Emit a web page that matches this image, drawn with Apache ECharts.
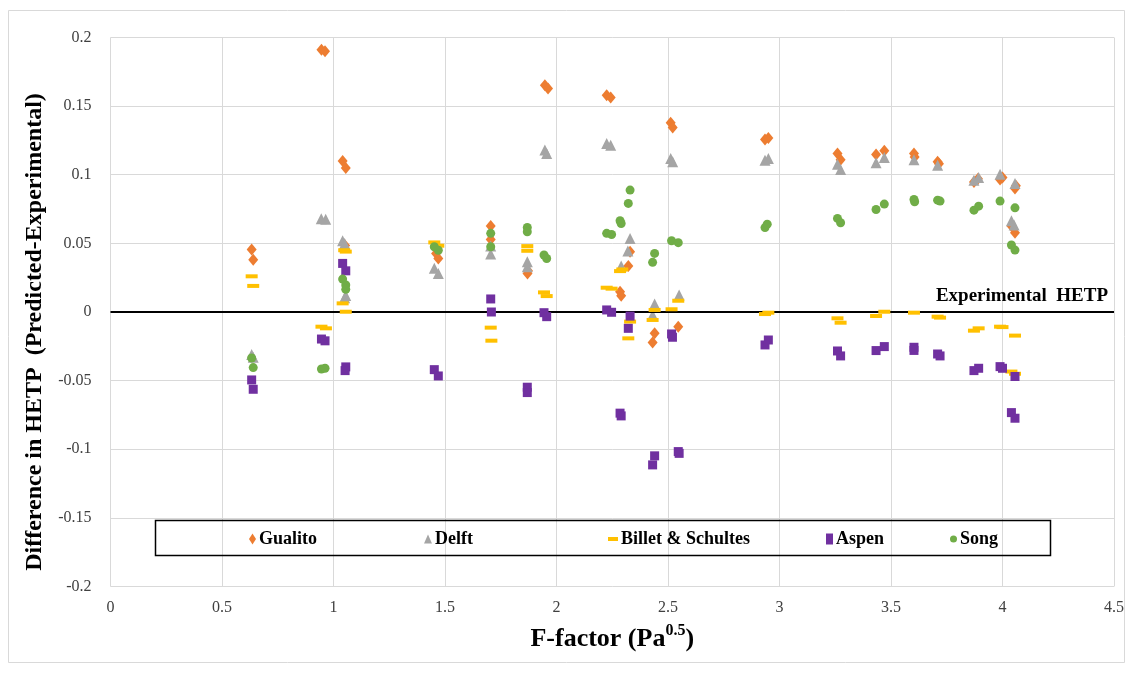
<!DOCTYPE html>
<html>
<head>
<meta charset="utf-8">
<script src="https://cdn.jsdelivr.net/npm/echarts@6/dist/echarts.min.js"></script>
<style>html,body{margin:0;padding:0;background:#fff;}#c{width:1132px;height:678px;}</style>
</head>
<body>
<div id="c"></div>
<script>
const seriesNames = ['Gualito', 'Delft', 'Billet & Schultes', 'Aspen', 'Song'];
const gualito = [[0.633,0.0456],[0.640,0.038],[0.946,0.191],[0.962,0.190],[1.041,0.110],[1.055,0.105],[1.052,0.0485],[1.46,0.0427],[1.47,0.039],[1.705,0.0626],[1.705,0.0529],[1.87,0.028],[1.872,0.030],[1.948,0.1652],[1.962,0.1628],[2.225,0.158],[2.243,0.1562],[2.285,0.0148],[2.29,0.0119],[2.322,0.0335],[2.33,0.0439],[2.431,-0.0223],[2.44,-0.0155],[2.512,0.1378],[2.521,0.1344],[2.546,-0.0107],[2.935,0.1257],[2.95,0.1268],[3.26,0.1155],[3.274,0.111],[3.433,0.1148],[3.47,0.1174],[3.603,0.1155],[3.606,0.113],[3.709,0.1094],[3.715,0.108],[3.872,0.0948],[3.89,0.097],[3.989,0.0966],[4.0,0.098],[4.056,0.09],[4.06,0.092],[4.04,0.0626],[4.056,0.0577]];
const delft = [[0.633,-0.031],[0.64,-0.033],[0.945,0.068],[0.965,0.0675],[1.041,0.052],[1.05,0.050],[1.05,0.0104],[1.055,0.012],[1.452,0.0318],[1.47,0.028],[1.705,0.0422],[1.705,0.048],[1.869,0.0366],[1.869,0.033],[1.948,0.118],[1.956,0.1155],[2.225,0.1228],[2.243,0.1215],[2.29,0.0335],[2.32,0.0444],[2.33,0.0536],[2.44,0.0058],[2.431,-0.0022],[2.512,0.1119],[2.521,0.1094],[2.55,0.0124],[2.935,0.1106],[2.95,0.1118],[3.26,0.1077],[3.274,0.1038],[3.433,0.1087],[3.47,0.1126],[3.603,0.111],[3.709,0.107],[3.872,0.096],[3.893,0.098],[3.989,0.1004],[4.056,0.0937],[4.04,0.0665],[4.052,0.0633]];
const billet = [[0.633,0.026],[0.64,0.019],[0.946,-0.0107],[0.966,-0.0119],[1.048,0.045],[1.055,0.044],[1.041,0.0063],[1.055,0.0002],[1.452,0.0507],[1.47,0.0483],[1.705,-0.0114],[1.708,-0.0209],[1.869,0.048],[1.869,0.0446],[1.944,0.0143],[1.956,0.0116],[2.225,0.0177],[2.247,0.017],[2.285,0.0298],[2.295,0.031],[2.33,-0.007],[2.322,-0.0192],[2.44,0.0015],[2.431,-0.0058],[2.546,0.0082],[2.516,0.002],[2.935,-0.0015],[2.95,-0.0005],[3.26,-0.0046],[3.274,-0.0078],[3.433,-0.0029],[3.47,0.0002],[3.603,-0.0005],[3.709,-0.0034],[3.72,-0.0041],[3.872,-0.0136],[3.893,-0.0119],[3.989,-0.0107],[4.0,-0.011],[4.056,-0.0172],[4.04,-0.0434],[4.056,-0.045]];
const aspen = [[0.633,-0.0495],[0.64,-0.0563],[0.946,-0.0197],[0.962,-0.021],[1.041,0.0354],[1.055,0.030],[1.055,-0.040],[1.052,-0.0427],[1.452,-0.042],[1.47,-0.0466],[1.705,0.0095],[1.708,0.0],[1.869,-0.0548],[1.869,-0.0587],[1.944,-0.0005],[1.956,-0.0034],[2.225,0.0015],[2.247,-0.0002],[2.285,-0.0737],[2.29,-0.0757],[2.33,-0.003],[2.322,-0.0119],[2.44,-0.1048],[2.431,-0.1114],[2.516,-0.016],[2.52,-0.0184],[2.546,-0.1017],[2.55,-0.103],[2.935,-0.024],[2.95,-0.0204],[3.26,-0.0284],[3.274,-0.032],[3.433,-0.0281],[3.47,-0.0252],[3.603,-0.0257],[3.603,-0.028],[3.709,-0.0306],[3.72,-0.032],[3.872,-0.0427],[3.893,-0.041],[3.989,-0.0398],[4.0,-0.041],[4.056,-0.047],[4.04,-0.0733],[4.056,-0.0774]];
const song = [[0.633,-0.0335],[0.64,-0.0405],[0.946,-0.0415],[0.962,-0.041],[1.041,0.024],[1.055,0.0197],[1.055,0.0165],[1.452,0.0475],[1.47,0.045],[1.705,0.0573],[1.705,0.0475],[1.869,0.0616],[1.869,0.0585],[1.944,0.0415],[1.956,0.039],[2.225,0.0573],[2.247,0.0565],[2.285,0.0665],[2.29,0.0645],[2.33,0.0888],[2.322,0.0791],[2.44,0.0427],[2.431,0.0362],[2.516,0.0519],[2.546,0.0505],[2.935,0.0615],[2.945,0.064],[3.26,0.0682],[3.274,0.065],[3.433,0.0747],[3.47,0.0786],[3.603,0.082],[3.606,0.0803],[3.709,0.0815],[3.72,0.0808],[3.872,0.0742],[3.893,0.0771],[3.989,0.0808],[4.056,0.0759],[4.04,0.0488],[4.056,0.0451]];
const refLineLabel = 'Experimental  HETP';
const xTitle = 'F-factor (Pa';
const xTitleSup = '0.5';
const yTitle = 'Difference in HETP  (Predicted-Experimental)';

const SERIF = '"Liberation Serif","Times New Roman",serif';
const colors = ['#ED7D31', '#A5A5A5', '#FFC000', '#7030A0', '#70AD47'];
const symbols = ['diamond', 'triangle', 'rect', 'rect', 'circle'];
const symbolSizes = [[10, 12], 11, [12, 4], 9, 9];
const legendIcons = ['diamond', 'triangle', 'rect', 'rect', 'circle'];
const legendSizes = [[7, 11], [8, 9], [10, 4], [7, 11], [7, 8]];
const legendLefts = [248, 423, 607, 825, 949];
const datas = [gualito, delft, billet, aspen, song];

const chart = echarts.init(document.getElementById('c'), null, {renderer: 'canvas'});
const series = seriesNames.map((n, i) => ({
  name: n, type: 'scatter', data: datas[i],
  symbol: symbols[i], symbolSize: symbolSizes[i],
  itemStyle: {color: colors[i], opacity: 1},
  z: 3 + i
}));
series.push({
  name: '__ref', type: 'scatter', data: [], z: 2,
  markLine: {
    silent: true, symbol: 'none', animation: false,
    lineStyle: {color: '#000', width: 2, type: 'solid'},
    label: {show: true, position: 'insideEndTop', formatter: refLineLabel,
      fontFamily: SERIF, fontWeight: 'bold', fontSize: 19, color: '#000', distance: [6, 6]},
    data: [{yAxis: 0}]
  }
});
const legends = seriesNames.map((n, i) => ({
  data: [{name: n, icon: legendIcons[i]}],
  left: legendLefts[i] - 4, top: 525, z: 20,
  itemWidth: legendSizes[i][0], itemHeight: legendSizes[i][1], itemGap: 2,
  textStyle: {fontFamily: SERIF, fontWeight: 'bold', fontSize: 18, color: '#000', padding: [0,0,0,-2]},
  selectedMode: false
}));
chart.setOption({
  animation: false,
  backgroundColor: '#fff',
  graphic: [
    {type: 'rect', shape: {x: 8.5, y: 10.5, width: 1116, height: 652}, style: {fill: 'none', stroke: '#d9d9d9', lineWidth: 1}, z: 0},
    {type: 'rect', shape: {x: 155.5, y: 520.5, width: 895, height: 35}, style: {fill: 'none', stroke: '#000', lineWidth: 1.5}, z: 1}
  ],
  legend: legends,
  grid: {left: 110.5, top: 37.5, width: 1003.5, height: 549, containLabel: false},
  xAxis: {
    type: 'value', min: 0, max: 4.5, interval: 0.5,
    axisLine: {show: false}, axisTick: {show: false},
    splitLine: {show: true, lineStyle: {color: '#d9d9d9', width: 1}},
    axisLabel: {fontFamily: SERIF, fontSize: 16, color: '#404040', margin: 13,
      formatter: v => String(Number(v.toFixed(2)))},
    name: '{a|' + xTitle + '}{b|' + xTitleSup + '}{a|)}', nameLocation: 'middle', nameGap: 36,
    nameTextStyle: {rich: {
      a: {fontFamily: SERIF, fontWeight: 'bold', fontSize: 26, color: '#000', verticalAlign: 'bottom', lineHeight: 30},
      b: {fontFamily: SERIF, fontWeight: 'bold', fontSize: 16, color: '#000', verticalAlign: 'top', lineHeight: 30, padding: [0,0,12,0]}
    }}
  },
  yAxis: {
    type: 'value', min: -0.2, max: 0.2, interval: 0.05,
    axisLine: {show: false}, axisTick: {show: false},
    splitLine: {show: true, lineStyle: {color: '#d9d9d9', width: 1}},
    axisLabel: {fontFamily: SERIF, fontSize: 16, color: '#404040', margin: 19,
      formatter: v => String(Number(v.toFixed(3)))},
    name: yTitle, nameLocation: 'middle', nameGap: 60,
    nameTextStyle: {fontFamily: SERIF, fontWeight: 'bold', fontSize: 24, color: '#000', padding: [0, 40, 0, 0]}
  },
  series: series
});
</script>
</body>
</html>
